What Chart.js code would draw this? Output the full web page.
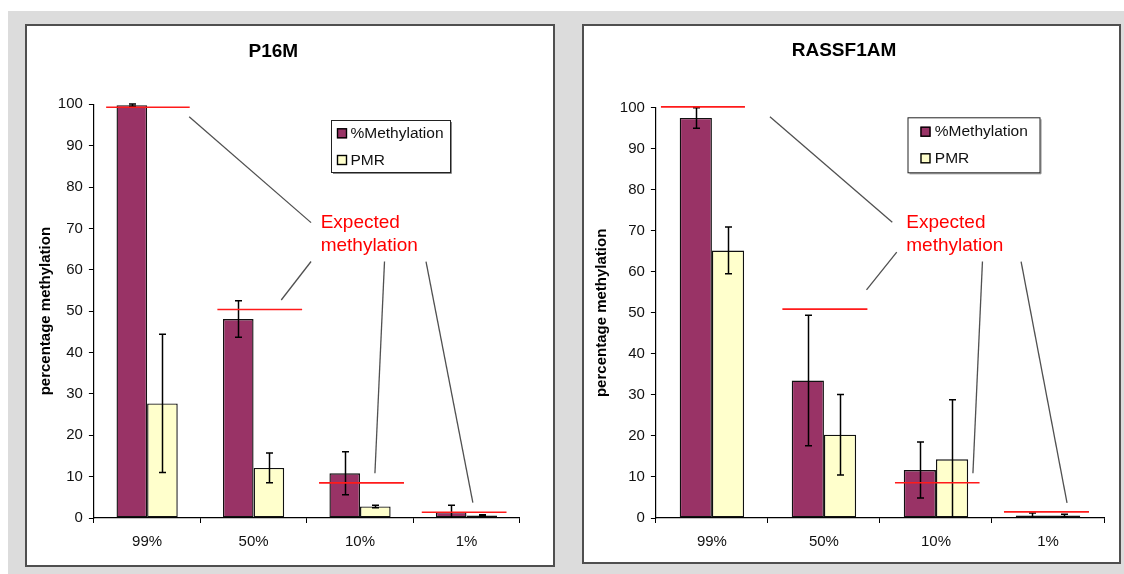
<!DOCTYPE html>
<html>
<head>
<meta charset="utf-8">
<title>Methylation assays</title>
<script src="https://cdn.jsdelivr.net/npm/chart.js@4.4.0/dist/chart.umd.min.js"></script>
<style>
  html, body { margin: 0; padding: 0; width: 1124px; height: 574px; overflow: hidden; background: #fff; }
  #panel { position: absolute; left: 8px; top: 11px; width: 1116px; height: 563px; background: #dcdcdc; }
  .frame { position: absolute; background: #fff; border: 2px solid #4f4f4f; }
  .frame canvas { display: block; }
</style>
</head>
<body>
<div id="panel"></div>
<div class="frame" style="left:25px;top:24px;width:526px;height:539px">
  <canvas id="p16" width="526" height="539"></canvas>
</div>
<div class="frame" style="left:582px;top:24px;width:535px;height:536px">
  <canvas id="rassf" width="535" height="536"></canvas>
</div>
<script>
// ---- data ----
const categories = ['99%', '50%', '10%', '1%'];
const seriesNames = ['%Methylation', 'PMR'];

const p16Methylation    = [99.8, 48.1, 10.8, 1.4];
const p16MethylationErr = [0.3, 4.4, 5.2, 1.7];
const p16Pmr            = [27.7, 12.1, 2.8, 0.6];
const p16PmrErr         = [16.7, 3.6, 0.3, 0.2];
const p16Expected       = [99.3, 50.4, 8.5, 1.4];

const rassfMethylation    = [97.5, 33.5, 11.7, 0.6];
const rassfMethylationErr = [2.5, 15.9, 6.8, 0.6];
const rassfPmr            = [65.2, 20.3, 14.3, 0.6];
const rassfPmrErr         = [5.7, 9.8, 14.5, 0.3];
const rassfExpected       = [100.2, 50.9, 8.6, 1.5];

const yMin = 0, yMax = 100, yStep = 10;

// ---- styling ----
const FONT = "'Liberation Sans', Arial, sans-serif";
const seriesColors = ['#993366', '#ffffcc'];
Chart.defaults.font.family = FONT;

// Callout geometry: x in category units from the left edge of the axis, y in axis values
const p16Callout = {
  text: ['Expected', 'methylation'],
  at: [2.13, 70.0],
  spans: [[-0.385, 0.40], [-0.34, 0.456], [-0.385, 0.413], [-0.42, 0.376]],
  leaders: [
    [[0.895, 97.0], [2.04, 71.4]],
    [[2.04, 62.0], [1.76, 52.7]],
    [[2.73, 62.0], [2.64, 10.8]],
    [[3.12, 62.0], [3.56, 3.7]]
  ]
};
const rassfCallout = {
  text: ['Expected', 'methylation'],
  at: [2.235, 70.6],
  spans: [[-0.455, 0.295], [-0.371, 0.388], [-0.366, 0.389], [-0.393, 0.366]],
  leaders: [
    [[1.018, 97.8], [2.11, 72.1]],
    [[2.15, 64.8], [1.88, 55.6]],
    [[2.915, 62.5], [2.83, 10.9]],
    [[3.26, 62.5], [3.67, 3.7]]
  ]
};

// Legend box placement in canvas pixels
const p16Legend   = { left: 304, top: 94, width: 119, height: 52, swatchX: 6, textX: 19.5, rows: [13.3, 40] };
const rassfLegend = { left: 323.5, top: 91.3, width: 132, height: 55, swatchX: 13, textX: 27.3, rows: [14.4, 41] };

// Error bars, expected-level markers, callout and legend
const overlayPlugin = {
  id: 'overlay',
  afterDatasetsDraw(chart, args, opts) {
    const { ctx, chartArea, scales: { x, y } } = chart;
    const ux = u => x.getPixelForValue(u - 0.5);

    // error bars
    ctx.save();
    ctx.beginPath();
    ctx.rect(chartArea.left, chartArea.top - 20, chartArea.width, chartArea.height + 20);
    ctx.clip();
    ctx.strokeStyle = '#000';
    ctx.lineWidth = 1.5;
    chart.data.datasets.forEach((ds, di) => {
      const meta = chart.getDatasetMeta(di);
      ds.errors.forEach((e, i) => {
        const cx = Math.round(meta.data[i].x) + 0.5;
        const hi = y.getPixelForValue(ds.data[i] + e);
        const lo = y.getPixelForValue(ds.data[i] - e);
        ctx.beginPath();
        ctx.moveTo(cx, hi); ctx.lineTo(cx, lo);
        ctx.moveTo(cx - 3.5, hi); ctx.lineTo(cx + 3.5, hi);
        ctx.moveTo(cx - 3.5, lo); ctx.lineTo(cx + 3.5, lo);
        ctx.stroke();
      });
    });
    ctx.restore();

    // expected methylation levels
    ctx.save();
    ctx.strokeStyle = '#ff1a1a';
    ctx.lineWidth = 1.6;
    opts.expected.forEach((v, i) => {
      const py = y.getPixelForValue(v);
      const [a, b] = opts.callout.spans[i];
      ctx.beginPath();
      ctx.moveTo(ux(i + 0.5 + a), py);
      ctx.lineTo(ux(i + 0.5 + b), py);
      ctx.stroke();
    });

    // leader lines
    ctx.strokeStyle = '#505050';
    ctx.lineWidth = 1.3;
    opts.callout.leaders.forEach(([p, q]) => {
      ctx.beginPath();
      ctx.moveTo(ux(p[0]), y.getPixelForValue(p[1]));
      ctx.lineTo(ux(q[0]), y.getPixelForValue(q[1]));
      ctx.stroke();
    });

    // callout text
    ctx.fillStyle = '#ff0000';
    ctx.font = '19px ' + FONT;
    ctx.textAlign = 'left';
    ctx.textBaseline = 'alphabetic';
    const tx = ux(opts.callout.at[0]);
    const ty = y.getPixelForValue(opts.callout.at[1]);
    opts.callout.text.forEach((t, k) => ctx.fillText(t, tx, ty + k * 22.4));

    // legend
    const L = opts.legend;
    ctx.fillStyle = '#fff';
    ctx.fillRect(L.left, L.top, L.width, L.height);
    ctx.strokeStyle = '#8a8a8a';
    ctx.lineWidth = 1;
    ctx.beginPath();
    ctx.moveTo(L.left + L.width + 1.5, L.top + 2);
    ctx.lineTo(L.left + L.width + 1.5, L.top + L.height + 1.5);
    ctx.lineTo(L.left + 2, L.top + L.height + 1.5);
    ctx.stroke();
    ctx.strokeStyle = '#222';
    ctx.strokeRect(L.left + 0.5, L.top + 0.5, L.width, L.height);
    ctx.font = '15.5px ' + FONT;
    ctx.textBaseline = 'middle';
    chart.data.datasets.forEach((ds, di) => {
      const ry = L.top + L.rows[di];
      ctx.fillStyle = ds.backgroundColor;
      ctx.fillRect(L.left + L.swatchX, ry - 5, 10, 10);
      ctx.strokeStyle = '#000';
      ctx.lineWidth = 1.4;
      ctx.strokeRect(L.left + L.swatchX + 0.5, ry - 4.5, 9, 9);
      ctx.fillStyle = '#111';
      ctx.fillText(ds.label, L.left + L.textX, ry + 0.5);
    });
    ctx.restore();
  }
};

function makeChart(id, title, meth, methErr, pmr, pmrErr, expected, callout, legend, frame) {
  const barStyle = { borderColor: '#111', borderWidth: 1.4, borderSkipped: false,
                     categoryPercentage: 0.575, barPercentage: 1.0 };
  return new Chart(document.getElementById(id), {
    type: 'bar',
    data: {
      labels: categories,
      datasets: [
        Object.assign({ label: seriesNames[0], data: meth, errors: methErr, backgroundColor: seriesColors[0] }, barStyle),
        Object.assign({ label: seriesNames[1], data: pmr, errors: pmrErr, backgroundColor: seriesColors[1] }, barStyle)
      ]
    },
    options: {
      responsive: false,
      animation: false,
      devicePixelRatio: 1,
      layout: { padding: { left: 0, right: frame.padRight, top: 0, bottom: 0 } },
      plugins: {
        legend: { display: false },
        tooltip: { enabled: false },
        title: {
          display: true, text: title, color: '#000',
          font: { size: 19, weight: 'bold', family: FONT },
          padding: { top: frame.titleTop, bottom: frame.titleBottom }
        },
        overlay: { expected, callout, legend }
      },
      scales: {
        x: {
          grid: { display: true, offset: true, drawOnChartArea: false, drawTicks: true, tickLength: 5, color: '#000' },
          border: { display: true, color: '#000', width: 1.2 },
          ticks: { color: '#111', padding: 10, font: { size: 15, family: FONT } },
          afterFit: s => { s.height = frame.xHeight; }
        },
        y: {
          min: yMin, max: yMax,
          grid: { display: true, drawOnChartArea: false, drawTicks: true, tickLength: 5, color: '#000' },
          border: { display: true, color: '#000', width: 1.2 },
          ticks: { stepSize: yStep, color: '#111', padding: 6, font: { size: 15, family: FONT } },
          title: {
            display: true, text: 'percentage methylation', color: '#000',
            font: { size: 15, weight: 'bold', family: FONT },
            padding: { top: frame.yTitlePad, bottom: 0 }
          },
          afterFit: s => { s.width = frame.yWidth; }
        }
      }
    },
    plugins: [overlayPlugin]
  });
}

makeChart('p16', 'P16M', p16Methylation, p16MethylationErr, p16Pmr, p16PmrErr, p16Expected,
  p16Callout, p16Legend,
  { padRight: 33.3, titleTop: 14.6, titleBottom: 40.9, xHeight: 47, yWidth: 66.9, yTitlePad: 10 });

makeChart('rassf', 'RASSF1AM', rassfMethylation, rassfMethylationErr, rassfPmr, rassfPmrErr, rassfExpected,
  rassfCallout, rassfLegend,
  { padRight: 15, titleTop: 13.6, titleBottom: 45.3, xHeight: 44, yWidth: 71.9, yTitlePad: 9.3 });
</script>
</body>
</html>
